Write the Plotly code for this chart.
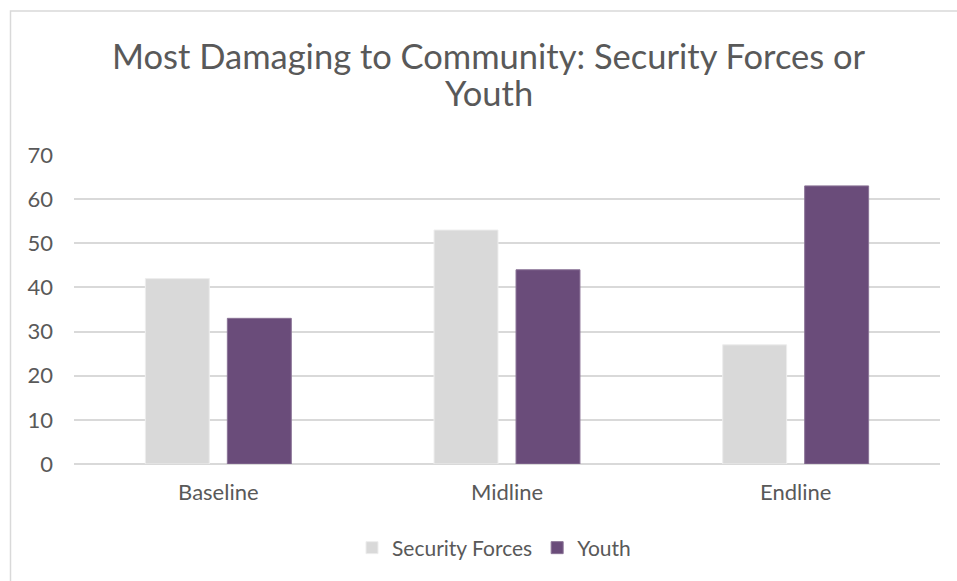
import plotly.graph_objects as go

# Survey rounds and share of respondents (%) naming each group as most damaging
categories = ["Baseline", "Midline", "Endline"]
security_forces = [42, 53, 27]
youth = [33, 44, 63]
y_ticks = [0, 10, 20, 30, 40, 50, 60, 70]
title_lines = ["Most Damaging to Community: Security Forces or", "Youth"]

TEXT = "#595959"
GRID = "#D9D9D9"
FONT = "Lato"

W, H = 957, 581
L, R, T, B = 74, 17, 155, 117

fig = go.Figure()
fig.add_trace(go.Bar(
    name="Security Forces", x=categories, y=security_forces,
    marker=dict(color="#D9D9D9", line=dict(color="#EDEDED", width=1)),
))
fig.add_trace(go.Bar(
    name="Youth", x=categories, y=youth,
    marker=dict(color="#6A4C7A", line=dict(color="#8A7396", width=1)),
))

pw = W - L - R
ph = H - T - B

def px_x(p):
    return (p - L) / pw

def px_y(p):
    return (H - B - p) / ph

# Two-line chart title, wrapped with Excel-like tight line spacing
title_annotations = [
    dict(text=line, xref="paper", yref="paper", x=px_x(489), y=px_y(yc),
         xanchor="center", yanchor="middle", showarrow=False,
         font=dict(family=FONT, size=34.5, color=TEXT))
    for line, yc in zip(title_lines, [55, 93])
]

fig.update_layout(
    width=W, height=H,
    margin=dict(l=L, r=R, t=T, b=B, autoexpand=False),
    paper_bgcolor="white", plot_bgcolor="white",
    barmode="group", bargap=0.432, bargroupgap=0.22,
    font=dict(family=FONT, color=TEXT, size=22),
    annotations=title_annotations,
    showlegend=True,
    legend=dict(
        orientation="h", x=px_x(494), xanchor="center",
        y=px_y(548), yanchor="middle",
        font=dict(family=FONT, size=21, color=TEXT),
        itemwidth=30, traceorder="normal",
    ),
    xaxis=dict(
        showgrid=False, showline=False, ticks="",
        tickfont=dict(family=FONT, size=22, color=TEXT),
        ticklabelstandoff=13,
    ),
    yaxis=dict(
        range=[0, 70], tickvals=y_ticks, ticktext=[str(v) for v in y_ticks],
        showgrid=True, gridcolor=GRID, gridwidth=1.5,
        zeroline=True, zerolinecolor=GRID, zerolinewidth=1.5,
        showline=False, ticks="", ticklabelstandoff=20,
        tickfont=dict(family=FONT, size=22, color=TEXT),
    ),
    shapes=[dict(
        type="rect", xref="paper", yref="paper",
        x0=px_x(10.5), x1=px_x(W + 20), y0=px_y(H + 20), y1=px_y(11),
        line=dict(color=GRID, width=1.5), fillcolor="rgba(0,0,0,0)", layer="below",
    )],
)

fig.write_html("out.html")
